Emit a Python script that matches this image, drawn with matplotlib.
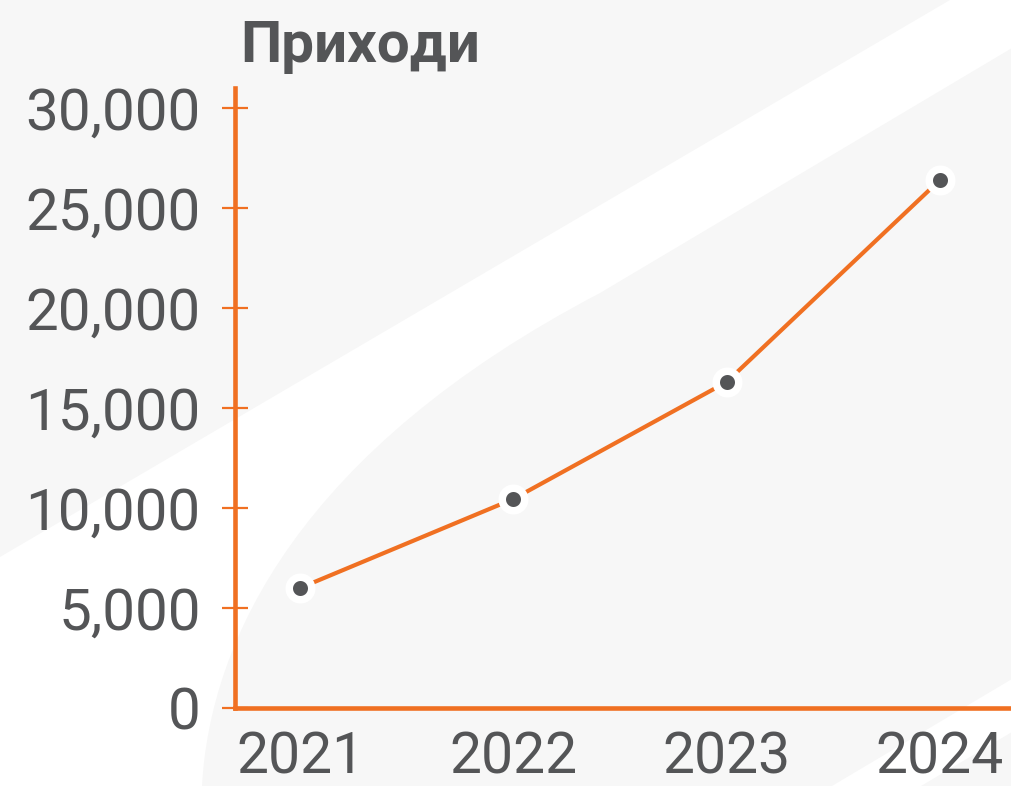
import matplotlib
matplotlib.use("Agg")
import matplotlib.pyplot as plt
from matplotlib.path import Path
from matplotlib.patches import PathPatch, Polygon
from matplotlib.ticker import StrMethodFormatter

# data
years = ["2021", "2022", "2023", "2024"]
revenue = [6000, 10450, 16300, 26400]
y_ticks = [0, 5000, 10000, 15000, 20000, 25000, 30000]
title = "Приходи"

ORANGE = "#f07022"
TEXT = "#545557"
BG = "#f7f7f7"

W, H = 1012, 786
plt.rcParams['font.family'] = ['Roboto', 'DejaVu Sans']

fig = plt.figure(figsize=(W / 100, H / 100), dpi=100, facecolor=BG)


def px(x, y):
    # pixel position -> figure fraction
    return (x / W, 1 - y / H)


# decorative white swoosh behind the chart
band = Path(
    [px(0, 557), px(950, 0), px(1012, 0), px(1012, 48), px(600, 293),
     px(300, 450), px(210, 640), px(202, 786), px(0, 786), px(0, 557)],
    [Path.MOVETO, Path.LINETO, Path.LINETO, Path.LINETO, Path.LINETO,
     Path.CURVE4, Path.CURVE4, Path.CURVE4, Path.LINETO, Path.CLOSEPOLY])
fig.add_artist(PathPatch(band, facecolor="white", edgecolor="none",
                         transform=fig.transFigure, zorder=0))
fig.add_artist(Polygon([px(832, 786), px(1012, 679), px(1012, 732), px(921, 786)],
                       closed=True, facecolor="white", edgecolor="none",
                       transform=fig.transFigure, zorder=0))

ax = fig.add_axes([235 / W, (H - 708) / H, (W - 235) / W, (708 - 88) / H])
ax.set_facecolor("none")

x = list(range(len(years)))
ax.plot(x, revenue, color=ORANGE, lw=3, marker="o", markersize=16.2,
        markerfacecolor=TEXT, markeredgecolor="white", markeredgewidth=5.4,
        zorder=3, clip_on=False)

ax.set_xlim(-0.305, 3.338)
ax.set_ylim(0, 31000)
ax.set_xticks(x)
ax.set_xticklabels(years)
ax.set_yticks(y_ticks)
ax.yaxis.set_major_formatter(StrMethodFormatter("{x:,.0f}"))

for side in ["top", "right"]:
    ax.spines[side].set_visible(False)
for side in ["left", "bottom"]:
    ax.spines[side].set_color(ORANGE)
    ax.spines[side].set_linewidth(3.3)

ax.tick_params(axis="y", direction="inout", length=19.4, width=1.6,
               color=ORANGE, labelsize=42, labelcolor=TEXT, pad=15)
ax.tick_params(axis="x", length=0, labelsize=41, labelcolor=TEXT, pad=16)

fig.text(240 / W, 1 - 62 / H, title, fontsize=42, fontweight="bold",
         color=TEXT, ha="left", va="baseline")

fig.savefig("out.png", dpi=100, facecolor=BG)
